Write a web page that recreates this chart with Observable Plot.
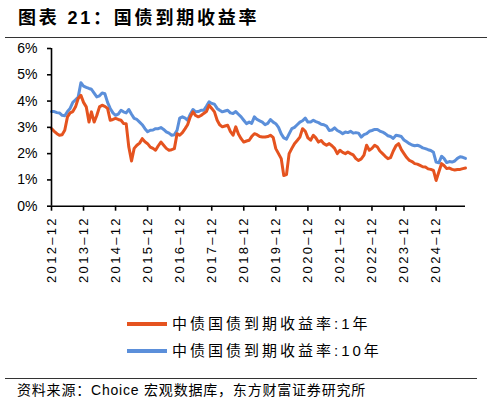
<!DOCTYPE html>
<html>
<head>
<meta charset="utf-8">
<script src="https://cdn.jsdelivr.net/npm/d3@7"></script>
<script src="https://cdn.jsdelivr.net/npm/@observablehq/plot@0.6"></script>
<style>
  html, body { margin: 0; padding: 0; background: #fff; }
  body { width: 492px; height: 402px; position: relative; overflow: hidden; font-family: "Liberation Sans", "Noto Sans CJK SC", sans-serif; color: #000; }
  #title { position: absolute; left: 18px; top: 3px; font-size: 18px; font-weight: bold; letter-spacing: 2.8px; white-space: nowrap; }
  #toprule { position: absolute; left: 5px; width: 482px; top: 37px; height: 0; border-top: 1.3px solid #333; }
  #chart { position: absolute; left: 0; top: 38px; }
  .leg { position: absolute; left: 127px; font-size: 15px; letter-spacing: 3px; white-space: nowrap; font-family: "Liberation Sans", "Noto Sans CJK SC", sans-serif; }
  .leg .sw { display: inline-block; width: 40px; height: 3.5px; vertical-align: middle; margin-right: 5px; position: relative; top: -1px; }
  #botrule { position: absolute; left: 5px; width: 472px; top: 378px; height: 0; border-top: 1.3px solid #333; }
  #source { position: absolute; left: 17px; top: 379px; font-size: 14px; letter-spacing: 0.8px; white-space: nowrap; }
  #chart svg g[aria-label="x-axis tick label"] text { letter-spacing: 2.3px; }
</style>
</head>
<body>
<div id="title">图表 21：国债到期收益率</div>
<div id="toprule"></div>
<div id="chart"></div>
<div id="legend"></div>
<div id="botrule"></div>
<div id="source">资料来源：Choice 宏观数据库，东方财富证券研究所</div>
<script>
// Monthly observations, 2012-12 through 2025-11
const startMonth = "2012-12-01";
const endMonth = "2025-11-01";

const seriesNames = ["中债国债到期收益率:1年", "中债国债到期收益率:10年"];
const seriesColors = ["#E5531F", "#5B8FDA"];

// 1-year yield (%)
const yield1Y = [
  2.95,
  2.85, 2.76, 2.70, 2.72, 2.89, 3.40, 3.55, 3.60, 3.78, 4.10, 4.22, 3.95,
  3.78, 3.20, 3.59, 3.20, 3.45, 3.78, 3.84, 3.80, 3.72, 3.27, 3.30, 3.34,
  3.30, 3.27, 3.15, 3.14, 2.25, 1.72, 2.20, 2.32, 2.40, 2.57, 2.45, 2.38,
  2.25, 2.20, 2.13, 2.30, 2.44, 2.32, 2.20, 2.13, 2.15, 2.19, 2.76, 2.70,
  2.80, 2.95, 3.10, 3.40, 3.59, 3.45, 3.40, 3.45, 3.53, 3.60, 3.84, 3.72,
  3.59, 3.27, 3.10, 3.02, 3.05, 3.08, 2.85, 2.70, 3.02, 2.75, 2.57, 2.44,
  2.48, 2.51, 2.65, 2.76, 2.72, 2.65, 2.63, 2.63, 2.65, 2.70, 2.62, 2.19,
  2.00, 1.81, 1.17, 1.20, 2.00, 2.20, 2.38, 2.50, 2.63, 2.95, 2.85, 2.60,
  2.51, 2.70, 2.60, 2.44, 2.50, 2.38, 2.32, 2.38, 2.30, 2.20, 2.00, 2.13,
  2.05, 2.00, 2.06, 2.00, 1.95, 1.81, 1.74, 1.80, 1.94, 2.32, 2.13, 2.20,
  2.32, 2.25, 2.10, 2.00, 1.90, 1.81, 1.85, 2.10, 2.30, 2.38, 2.15, 2.00,
  1.85, 1.74, 1.70, 1.62, 1.60, 1.55, 1.50, 1.49, 1.42, 1.40, 1.36, 0.98,
  1.30, 1.62, 1.55, 1.43, 1.45, 1.40, 1.38, 1.40, 1.40, 1.43, 1.45
];

// 10-year yield (%)
const yield10Y = [
  3.60,
  3.60, 3.56, 3.55, 3.46, 3.44, 3.60, 3.72, 3.95, 4.05, 4.15, 4.70, 4.57,
  4.52, 4.48, 4.45, 4.30, 4.16, 4.20, 4.31, 4.28, 3.95, 3.72, 3.55, 3.46,
  3.50, 3.65, 3.59, 3.55, 3.68, 3.50, 3.34, 3.30, 3.20, 3.10, 2.95, 2.83,
  2.89, 2.90, 2.95, 2.95, 2.99, 2.92, 2.83, 2.78, 2.70, 2.72, 2.89, 3.35,
  3.40, 3.35, 3.27, 3.50, 3.68, 3.59, 3.60, 3.65, 3.65, 3.80, 3.97, 3.91,
  3.88, 3.72, 3.65, 3.59, 3.62, 3.65, 3.55, 3.53, 3.60, 3.50, 3.40, 3.27,
  3.14, 3.20, 3.15, 3.40, 3.30, 3.25, 3.20, 3.10, 3.15, 3.30, 3.20, 3.14,
  3.00, 2.75, 2.60, 2.55, 2.75, 2.95, 3.00, 3.10, 3.20, 3.25, 3.35, 3.20,
  3.20, 3.27, 3.22, 3.18, 3.12, 3.10, 3.05, 2.88, 2.90, 2.98, 2.88, 2.83,
  2.76, 2.82, 2.80, 2.85, 2.78, 2.80, 2.78, 2.63, 2.72, 2.76, 2.85, 2.88,
  2.92, 2.92, 2.86, 2.82, 2.76, 2.68, 2.65, 2.58, 2.70, 2.68, 2.65, 2.52,
  2.45, 2.38, 2.33, 2.30, 2.32, 2.28, 2.22, 2.19, 2.15, 2.12, 2.05, 1.68,
  1.65, 1.90, 1.82, 1.66, 1.70, 1.68, 1.72, 1.82, 1.88, 1.86, 1.82
];

const yTicks = [0, 1, 2, 3, 4, 5, 6];
const xTickLabels = ["2012-12", "2013-12", "2014-12", "2015-12", "2016-12", "2017-12",
  "2018-12", "2019-12", "2020-12", "2021-12", "2022-12", "2023-12", "2024-12"];

const parseMonth = d3.utcParse("%Y-%m");
const months = d3.utcMonth.range(new Date(startMonth), d3.utcMonth.offset(new Date(endMonth), 1));
const rows = [];
months.forEach((d, i) => {
  rows.push({date: d, value: yield1Y[i], series: seriesNames[0]});
  rows.push({date: d, value: yield10Y[i], series: seriesNames[1]});
});
const xTicks = xTickLabels.map(parseMonth);

const fontTick = "Liberation Sans, Arial, sans-serif";

const plot = Plot.plot({
  width: 492,
  height: 250,
  marginTop: 10,
  marginLeft: 51,
  marginRight: 27,
  marginBottom: 82.3,
  style: {fontFamily: fontTick, fontSize: "13px", color: "#000", background: "transparent"},
  x: {type: "utc", domain: [new Date(startMonth), new Date(endMonth)]},
  y: {domain: [0, 6]},
  color: {domain: seriesNames, range: seriesColors},
  marks: [
    Plot.lineY(rows.filter(r => r.series === seriesNames[1]), {x: "date", y: "value", stroke: seriesColors[1], strokeWidth: 3, curve: "linear"}),
    Plot.lineY(rows.filter(r => r.series === seriesNames[0]), {x: "date", y: "value", stroke: seriesColors[0], strokeWidth: 3, curve: "linear"}),
    Plot.ruleY([0], {stroke: "#000", strokeWidth: 1.6}),
    Plot.ruleX([new Date(startMonth)], {y1: 0, y2: 6, stroke: "#000", strokeWidth: 1.6}),
    Plot.axisY({ticks: yTicks, tickFormat: d => d + "%", tickSize: 4, tickPadding: 10, strokeWidth: 1.6, fontSize: 14, label: null}),
    Plot.axisX({ticks: xTicks, tickFormat: (d, i) => xTickLabels[i].replace("-", "–"), tickSize: 5, tickPadding: 5, tickRotate: -90, strokeWidth: 1.6, fontSize: 13, label: null})
  ]
});
document.getElementById("chart").appendChild(plot);

// Legend
const legend = document.getElementById("legend");
seriesNames.forEach((name, i) => {
  const div = document.createElement("div");
  div.className = "leg";
  div.style.top = (i === 0 ? 312 : 339) + "px";
  const sw = document.createElement("span");
  sw.className = "sw";
  sw.style.background = seriesColors[i];
  div.appendChild(sw);
  div.appendChild(document.createTextNode(name));
  legend.appendChild(div);
});
</script>
</body>
</html>
